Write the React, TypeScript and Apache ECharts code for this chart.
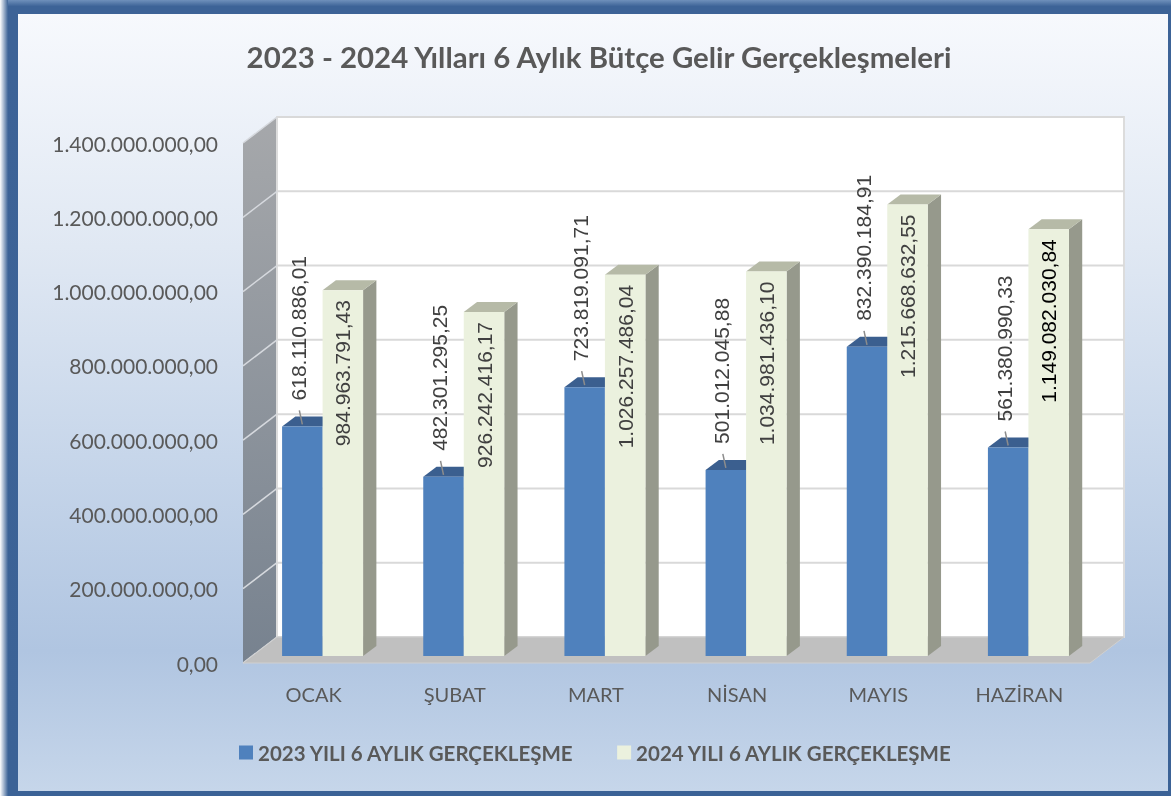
import React, { useEffect, useRef } from "react";
import * as echarts from "echarts";

const categories = ["OCAK", "ŞUBAT", "MART", "NİSAN", "MAYIS", "HAZİRAN"];
const values2023 = [618110886.01, 482301295.25, 723819091.71, 501012045.88, 832390184.91, 561380990.33];
const values2024 = [984963791.43, 926242416.17, 1026257486.04, 1034981436.1, 1215668632.55, 1149082030.84];
const yTicks = [0, 200000000, 400000000, 600000000, 800000000, 1000000000, 1200000000, 1400000000];
const seriesNames = ["2023 YILI 6 AYLIK GERÇEKLEŞME", "2024 YILI 6 AYLIK GERÇEKLEŞME"];
const titleText = "2023 - 2024 Yılları 6 Aylık Bütçe Gelir Gerçekleşmeleri";

// geometry / style constants
const DX = 34, DY = -26; // wall depth
const OX = 9, OY = -7; // bar front face offset into depth
const BDX = 13.3, BDY = -10; // bar depth
const BW = 40.5;
const UI_FONT = "Lato, 'Noto Sans', sans-serif";
const LABEL_FONT = "'Liberation Sans', Arial, sans-serif";

function fmtTR(v: number): string {
  const [i, d] = v.toFixed(2).split(".");
  return i.replace(/\B(?=(\d{3})+(?!\d))/g, ".") + "," + d;
}

function wallsRender(params: any, api: any) {
  const bw = api.size([1, 0])[0];
  const x0 = api.coord([0, 0])[0] - bw / 2;
  const x1 = api.coord([categories.length - 1, 0])[0] + bw / 2;
  const y0 = api.coord([0, yTicks[0]])[1];
  const yT = api.coord([0, yTicks[yTicks.length - 1]])[1];
  const children: any[] = [];
  // side wall
  children.push({
    type: "polygon",
    shape: { points: [[x0, y0], [x0, yT], [x0 + DX, yT + DY], [x0 + DX, y0 + DY]] },
    style: {
      fill: new echarts.graphic.LinearGradient(0, 0, 0, 1, [
        { offset: 0, color: "#a6a8ab" },
        { offset: 1, color: "#77828f" },
      ]),
    },
  });
  // back wall
  children.push({
    type: "rect",
    shape: { x: x0 + DX, y: yT + DY, width: x1 - x0, height: y0 - yT },
    style: { fill: "#ffffff", stroke: "#dcdcdc", lineWidth: 2 },
  });
  // gridlines
  yTicks.forEach((t) => {
    const y = api.coord([0, t])[1];
    children.push({
      type: "line",
      shape: { x1: x0 + DX, y1: y + DY, x2: x1 + DX, y2: y + DY },
      style: { stroke: "#d9d9d9", lineWidth: 2 },
    });
    children.push({
      type: "line",
      shape: { x1: x0, y1: y, x2: x0 + DX, y2: y + DY },
      style: { stroke: "#d6d9de", lineWidth: 1.5 },
    });
  });
  // floor
  children.push({
    type: "polygon",
    shape: { points: [[x0, y0], [x1, y0], [x1 + DX, y0 + DY], [x0 + DX, y0 + DY]] },
    style: { fill: "#c0c0c0", stroke: "#d0d0d0", lineWidth: 1 },
  });
  return { type: "group", children };
}

function makeBarRender(kind: number) {
  return (params: any, api: any) => {
    const i = api.value(0);
    const v = api.value(1);
    const top = api.coord([i, v]);
    const base = api.coord([i, 0]);
    const cx = top[0] + OX;
    const left = kind === 0 ? cx - BW : cx;
    const right = left + BW;
    const yT = top[1] + OY;
    const yB = base[1] + OY;
    const front = kind === 0 ? "#4f81bd" : "#ebf1de";
    const topC = kind === 0 ? "#3b5f8f" : "#b6baa7";
    const sideC = kind === 0 ? "#3d6494" : "#96998c";
    const children: any[] = [
      {
        type: "polygon",
        shape: { points: [[right, yB], [right, yT], [right + BDX, yT + BDY], [right + BDX, yB + BDY]] },
        style: { fill: sideC },
      },
      {
        type: "polygon",
        shape: { points: [[left, yT], [right, yT], [right + BDX, yT + BDY], [left + BDX, yT + BDY]] },
        style: { fill: topC },
      },
      {
        type: "rect",
        shape: { x: left, y: yT, width: BW, height: yB - yT },
        style: { fill: front },
      },
    ];
    const mid = (left + right) / 2;
    if (kind === 0) {
      children.push({
        type: "line",
        shape: { x1: mid, y1: yT - 2, x2: mid - 3, y2: yT - 16 },
        style: { stroke: "#8c8c8c", lineWidth: 1.5 },
      });
      children.push({
        type: "text",
        x: mid - 4,
        y: yT - 26,
        rotation: Math.PI / 2,
        style: {
          text: fmtTR(v),
          align: "left",
          verticalAlign: "middle",
          font: `21px ${LABEL_FONT}`,
          fill: "#404040",
        },
      });
    } else {
      children.push({
        type: "text",
        x: mid,
        y: yT + 10,
        rotation: Math.PI / 2,
        style: {
          text: fmtTR(v),
          align: "right",
          verticalAlign: "middle",
          font: `21px ${LABEL_FONT}`,
          fill: i === categories.length - 1 ? "#000000" : "#404040",
        },
      });
    }
    return { type: "group", children };
  };
}

export default function App() {
  const ref = useRef<HTMLDivElement>(null);
  useEffect(() => {
    if (!ref.current) return;
    const chart = echarts.init(ref.current, undefined, { renderer: "svg" });
    chart.setOption({
      animation: false,
      title: {
        text: titleText,
        left: 594,
        top: 37,
        textAlign: "center",
        textStyle: { fontFamily: UI_FONT, fontWeight: "bold", fontSize: 29.4, color: "#595959" },
      },
      legend: {
        left: 234,
        top: 737,
        itemWidth: 14,
        itemHeight: 14,
        itemGap: 43,
        icon: "rect",
        data: seriesNames,
        textStyle: { fontFamily: UI_FONT, fontWeight: "bold", fontSize: 20.5, color: "#595959" },
      },
      graphic: [
        {
          type: "rect",
          shape: { x: 0, y: 0, width: 18, height: 796 },
          style: {
            fill: new echarts.graphic.LinearGradient(0, 0, 1, 0, [
              { offset: 0, color: "rgba(59,98,150,0)" },
              { offset: 0.45, color: "#3b6296" },
              { offset: 1, color: "#3b6296" },
            ]),
          },
          z: -10,
        },
        {
          type: "rect",
          shape: { x: 8, y: 0, width: 1163, height: 796 },
          style: {
            fill: new echarts.graphic.LinearGradient(0, 0, 0, 1, [
              { offset: 0, color: "#6f90bb" },
              { offset: 0.008, color: "#3d6397" },
              { offset: 1, color: "#3b6296" },
            ]),
          },
          z: -10,
        },
        {
          type: "rect",
          shape: { x: 18, y: 14, width: 1150, height: 777 },
          style: {
            fill: new echarts.graphic.LinearGradient(0, 0, 0, 1, [
              { offset: 0, color: "#f7f9fd" },
              { offset: 0.3, color: "#e0e8f3" },
              { offset: 0.6, color: "#c4d4e9" },
              { offset: 0.82, color: "#b0c5e1" },
              { offset: 1, color: "#c6d6ea" },
            ]),
          },
          z: -9,
        },
      ],
      grid: { left: 243, top: 143, width: 847, height: 520, containLabel: false },
      xAxis: {
        type: "category",
        data: categories,
        axisLine: { show: false },
        axisTick: { show: false },
        axisLabel: { margin: 21, fontFamily: UI_FONT, fontSize: 20, color: "#595959" },
      },
      yAxis: {
        type: "value",
        min: 0,
        max: 1400000000,
        interval: 200000000,
        axisLine: { show: false },
        axisTick: { show: false },
        splitLine: { show: false },
        axisLabel: {
          margin: 25,
          fontFamily: UI_FONT,
          fontSize: 21,
          color: "#595959",
          formatter: (v: number) => fmtTR(v),
        },
      },
      series: [
        {
          type: "custom",
          name: "walls",
          silent: true,
          clip: false,
          z: 1,
          renderItem: wallsRender,
          data: [[0, 0]],
          encode: { x: 0, y: 1 },
        },
        {
          type: "custom",
          name: seriesNames[0],
          clip: false,
          z: 3,
          itemStyle: { color: "#4f81bd" },
          renderItem: makeBarRender(0),
          data: values2023.map((v, i) => [i, v]),
          encode: { x: 0, y: 1 },
        },
        {
          type: "custom",
          name: seriesNames[1],
          clip: false,
          z: 4,
          itemStyle: { color: "#ebf1de" },
          renderItem: makeBarRender(1),
          data: values2024.map((v, i) => [i, v]),
          encode: { x: 0, y: 1 },
        },
      ],
    });
    return () => chart.dispose();
  }, []);
  return (
    <div
      ref={ref}
      style={{ position: "fixed", left: 0, top: 0, width: 1171, height: 796 }}
    />
  );
}
